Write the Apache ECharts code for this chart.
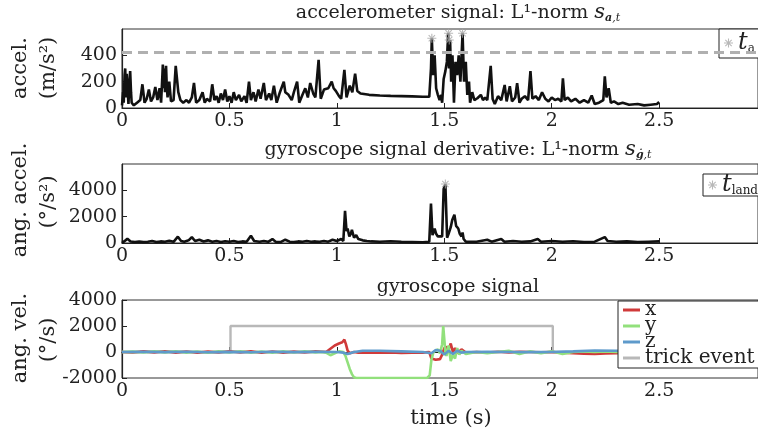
<!DOCTYPE html>
<html><head><meta charset="utf-8">
<script src="https://cdn.jsdelivr.net/npm/echarts@6/dist/echarts.min.js"></script>
<style>html,body{margin:0;padding:0;background:#fff}#c{width:758px;height:430px}</style>
</head><body><div id="c"></div>
<script>
// ---------- data ----------
const xTicks = [0, 0.5, 1, 1.5, 2, 2.5];
const accThreshold = 420;
const accData = [[0,20],[0.005,120],[0.008,40],[0.012,250],[0.015,300],[0.018,80],[0.022,260],[0.025,180],[0.03,30],[0.035,200],[0.038,280],[0.042,120],[0.045,40],[0.055,20],[0.07,40],[0.085,60],[0.095,180],[0.105,40],[0.115,70],[0.125,140],[0.135,50],[0.145,80],[0.155,160],[0.165,60],[0.175,150],[0.182,40],[0.188,250],[0.19,330],[0.194,150],[0.197,300],[0.2,120],[0.205,320],[0.208,180],[0.212,80],[0.22,200],[0.228,50],[0.24,60],[0.25,320],[0.262,120],[0.272,60],[0.285,40],[0.3,60],[0.312,40],[0.325,80],[0.335,190],[0.345,40],[0.36,60],[0.375,120],[0.385,40],[0.395,70],[0.41,50],[0.42,180],[0.43,60],[0.44,90],[0.45,40],[0.46,110],[0.47,60],[0.48,140],[0.49,50],[0.5,90],[0.51,40],[0.52,120],[0.53,60],[0.545,100],[0.555,50],[0.57,90],[0.58,40],[0.591,200],[0.6,60],[0.612,120],[0.622,50],[0.635,140],[0.645,70],[0.66,190],[0.67,60],[0.685,110],[0.695,60],[0.707,170],[0.72,40],[0.735,120],[0.753,200],[0.76,120],[0.775,100],[0.79,60],[0.8,120],[0.815,200],[0.825,40],[0.84,100],[0.853,150],[0.865,80],[0.876,190],[0.89,110],[0.9,80],[0.915,365],[0.925,70],[0.94,140],[0.96,150],[0.976,200],[0.985,150],[0.995,130],[1.01,90],[1.02,70],[1.035,290],[1.045,80],[1.06,170],[1.072,120],[1.085,260],[1.095,130],[1.11,110],[1.15,100],[1.2,95],[1.25,92],[1.3,90],[1.35,88],[1.4,85],[1.43,85],[1.438,300],[1.442,530],[1.448,250],[1.455,400],[1.462,150],[1.47,100],[1.478,60],[1.485,100],[1.49,40],[1.497,220],[1.505,280],[1.512,350],[1.518,568],[1.522,300],[1.527,517],[1.532,200],[1.538,400],[1.545,40],[1.552,350],[1.56,250],[1.567,400],[1.575,200],[1.585,568],[1.592,200],[1.6,350],[1.607,100],[1.615,200],[1.62,40],[1.63,120],[1.64,60],[1.654,74],[1.67,100],[1.68,60],[1.69,80],[1.7,60],[1.716,320],[1.725,68],[1.735,30],[1.75,90],[1.765,60],[1.781,175],[1.79,50],[1.805,165],[1.815,50],[1.83,80],[1.839,188],[1.85,40],[1.86,70],[1.875,90],[1.89,60],[1.901,280],[1.91,70],[1.925,90],[1.94,60],[1.955,120],[1.97,70],[1.985,50],[2.0,80],[2.015,60],[2.03,70],[2.045,50],[2.052,225],[2.06,60],[2.075,80],[2.09,50],[2.11,70],[2.13,40],[2.15,60],[2.17,40],[2.186,95],[2.2,30],[2.22,40],[2.24,60],[2.247,240],[2.255,80],[2.265,150],[2.275,40],[2.29,50],[2.31,30],[2.33,40],[2.36,25],[2.4,30],[2.43,20],[2.46,25],[2.49,30],[2.5,45]];
const accStars = [[1.442,530],[1.52,568],[1.523,517],[1.585,568]];

const gyroDerivData = [[0,0],[0.01,120],[0.025,330],[0.04,120],[0.06,80],[0.08,120],[0.1,80],[0.12,100],[0.14,150],[0.16,80],[0.18,120],[0.2,100],[0.22,160],[0.24,90],[0.26,480],[0.275,150],[0.29,100],[0.31,200],[0.325,450],[0.34,150],[0.36,250],[0.38,120],[0.4,200],[0.42,100],[0.44,150],[0.46,80],[0.48,130],[0.5,100],[0.52,150],[0.54,80],[0.56,120],[0.58,100],[0.6,550],[0.615,150],[0.64,100],[0.66,150],[0.68,90],[0.7,300],[0.715,100],[0.74,80],[0.76,250],[0.78,100],[0.8,80],[0.82,120],[0.84,100],[0.86,150],[0.88,100],[0.9,120],[0.92,90],[0.94,150],[0.96,100],[0.98,250],[1.0,150],[1.02,300],[1.03,150],[1.038,2450],[1.045,900],[1.05,1100],[1.058,500],[1.065,700],[1.07,1000],[1.08,400],[1.09,600],[1.1,300],[1.12,200],[1.14,150],[1.16,120],[1.2,100],[1.25,130],[1.3,90],[1.35,80],[1.4,60],[1.43,100],[1.438,3000],[1.445,600],[1.455,1100],[1.462,700],[1.47,500],[1.49,500],[1.497,4100],[1.505,4450],[1.51,4300],[1.513,400],[1.52,700],[1.53,1200],[1.537,1750],[1.547,2150],[1.555,1300],[1.565,1100],[1.572,700],[1.58,500],[1.585,800],[1.59,300],[1.6,100],[1.65,100],[1.7,250],[1.72,100],[1.765,300],[1.78,100],[1.82,150],[1.86,100],[1.9,120],[1.935,300],[1.95,100],[2.0,150],[2.05,100],[2.1,130],[2.15,80],[2.2,100],[2.247,450],[2.26,150],[2.3,100],[2.35,120],[2.4,80],[2.45,100],[2.5,120]];
const gyroDerivStars = [[1.505,4480]];

const trickData = [[0,0],[0.505,0],[0.505,2000],[2.005,2000],[2.005,0],[2.5,0]];
const gyroX = [[0,0],[0.05,-40],[0.1,50],[0.15,-30],[0.2,60],[0.25,-50],[0.3,40],[0.35,-60],[0.4,30],[0.45,-40],[0.5,60],[0.55,-30],[0.6,50],[0.65,-60],[0.7,40],[0.75,-50],[0.8,30],[0.85,-40],[0.9,50],[0.95,0],[0.97,250],[0.99,500],[1.01,650],[1.025,750],[1.035,950],[1.042,600],[1.05,100],[1.06,-100],[1.08,0],[1.1,-50],[1.15,-30],[1.2,-60],[1.25,-40],[1.3,-80],[1.35,-60],[1.4,-50],[1.43,0],[1.44,-500],[1.46,-600],[1.48,-550],[1.49,-200],[1.5,300],[1.51,400],[1.52,200],[1.53,650],[1.54,0],[1.55,300],[1.56,-100],[1.58,200],[1.6,-50],[1.65,0],[1.7,-40],[1.75,20],[1.8,-30],[1.85,10],[1.9,0],[1.95,-20],[2.0,0],[2.05,-60],[2.1,-100],[2.15,-140],[2.2,-150],[2.25,-120],[2.3,-100],[2.35,-60],[2.4,0],[2.45,30],[2.5,50]];
const gyroY = [[0,0],[0.05,30],[0.1,-40],[0.15,50],[0.2,-30],[0.25,60],[0.3,-50],[0.35,40],[0.4,-60],[0.45,50],[0.5,-40],[0.55,60],[0.6,-50],[0.65,40],[0.7,-60],[0.75,50],[0.8,-40],[0.85,60],[0.9,-30],[0.93,0],[0.95,-50],[0.97,-250],[0.99,-100],[1.01,50],[1.03,0],[1.04,-300],[1.05,-800],[1.06,-1300],[1.07,-1700],[1.08,-1950],[1.09,-2000],[1.2,-2000],[1.3,-2000],[1.42,-2000],[1.432,-1800],[1.44,-600],[1.45,0],[1.47,200],[1.48,-100],[1.49,600],[1.495,2000],[1.5,1900],[1.505,0],[1.51,-300],[1.52,500],[1.53,-700],[1.54,-200],[1.55,-500],[1.56,300],[1.57,-200],[1.58,100],[1.6,-150],[1.65,0],[1.7,-100],[1.75,0],[1.8,100],[1.85,-150],[1.9,50],[1.95,-100],[2.0,50],[2.05,-150],[2.1,0],[2.15,50],[2.2,0],[2.25,50],[2.3,0],[2.35,-50],[2.4,0],[2.45,0],[2.5,0]];
const gyroZ = [[0,0],[0.1,20],[0.2,-10],[0.3,15],[0.4,-20],[0.5,10],[0.6,-15],[0.7,20],[0.8,-10],[0.9,10],[1.0,0],[1.03,-50],[1.05,-150],[1.08,0],[1.12,100],[1.2,100],[1.3,50],[1.4,0],[1.44,-100],[1.46,150],[1.48,100],[1.5,-200],[1.52,100],[1.54,-150],[1.56,100],[1.58,-50],[1.6,0],[1.7,20],[1.8,0],[1.9,-10],[2.0,0],[2.1,50],[2.2,120],[2.3,100],[2.4,50],[2.5,0]];

// ---------- chart ----------
const FONT = 'DejaVu Serif';
const XMAX = 2.96;
const STAR = 'path://M0,4.4L10,4.4L10,5.6L0,5.6Z M4.4,0L5.6,0L5.6,10L4.4,10Z M1.88,1.04L8.96,8.12L8.12,8.96L1.04,1.88Z M8.96,1.88L1.88,8.96L1.04,8.12L8.12,1.04Z';
const gridsPos = [{top:29,height:79},{top:164,height:79},{top:300,height:80}];
const yCfg = [{min:0,max:600,interval:200,hideMax:true},{min:0,max:6000,interval:2000,hideMax:true},{min:-2000,max:4000,interval:2000,hideMax:false}];

const chart = echarts.init(document.getElementById('c'), null, {renderer:'canvas'});
const axisLineStyle = {color:'#222', width:1.2};
const subRich = {t:{fontStyle:'italic',fontSize:24,fontFamily:FONT,color:'#222'}, s:{fontSize:12,fontFamily:FONT,color:'#222',verticalAlign:'bottom',padding:[11,0,0,0]}};
const opt = {
  animation:false,
  backgroundColor:'#fff',
  grid: gridsPos.map(g => ({left:122, right:-5, top:g.top, height:g.height, show:true, borderColor:'#333', borderWidth:1, backgroundColor:'transparent'})),
  xAxis: gridsPos.map((g,i) => ({
    type:'value', gridIndex:i, min:xTicks[0], max:XMAX, interval:xTicks[1]-xTicks[0],
    axisLine:{lineStyle:axisLineStyle}, axisTick:{inside:true,length:5,lineStyle:{color:'#222'}},
    splitLine:{show:false},
    axisLabel:{showMaxLabel:false, fontFamily:FONT, fontSize:19, color:'#222', margin:4, formatter:v=>String(v)},
    name: i===2 ? 'time (s)' : '', nameLocation:'middle', nameGap:30,
    nameTextStyle:{fontFamily:FONT, fontSize:21, color:'#222', padding:[0,0,0,22]}
  })),
  yAxis: yCfg.map((c,i) => ({
    type:'value', gridIndex:i, min:c.min, max:c.max, interval:c.interval,
    axisLine:{show:true, lineStyle:axisLineStyle}, axisTick:{show:true, inside:true, length:5, lineStyle:{color:'#222'}},
    splitLine:{show:false},
    axisLabel:{showMaxLabel:!c.hideMax, fontFamily:FONT, fontSize:19, color:'#222', margin:5, formatter:v=>String(v)}
  })),
  legend: [
    {data:['t_a'], left:719, top:29, orient:'vertical', padding:[2,12,3,5], itemWidth:9, itemHeight:9, itemGap:0,
     borderColor:'#222', borderWidth:1, backgroundColor:'#fff',
     formatter:()=>'{t|t}{s|a}', textStyle:{fontFamily:FONT, color:'#222', rich:subRich}},
    {data:['t_land'], left:703, top:174, orient:'vertical', padding:[-1,12,-1,5], itemWidth:9, itemHeight:9, itemGap:0,
     borderColor:'#222', borderWidth:1, backgroundColor:'#fff',
     formatter:()=>'{t|t}{s|land}', textStyle:{fontFamily:FONT, color:'#222', rich:subRich}},
    {data:[{name:'x',icon:'rect'},{name:'y',icon:'rect'},{name:'z',icon:'rect'},{name:'trick event',icon:'rect'}],
     left:618, top:301, orient:'vertical', padding:[-1,30,0,5], itemWidth:17, itemHeight:3, itemGap:-4, itemStyle:{},
     borderColor:'#222', borderWidth:1, backgroundColor:'#fff',
     textStyle:{fontFamily:FONT, fontSize:20, color:'#222'}}
  ],
  series: [
    {name:'acc', type:'line', xAxisIndex:0, yAxisIndex:0, data:accData, showSymbol:false, lineStyle:{color:'#111', width:2.6}, itemStyle:{color:'#111'},
     markLine:{silent:true, symbol:'none', label:{show:false}, lineStyle:{color:'#b0b0b0', type:[10,6], width:3}, data:[{yAxis:accThreshold}]}},
    {name:'t_a', type:'scatter', xAxisIndex:0, yAxisIndex:0, data:accStars, symbol:STAR, symbolSize:9, itemStyle:{color:'#a8a8a8'}, z:5},
    {name:'gd', type:'line', xAxisIndex:1, yAxisIndex:1, data:gyroDerivData, showSymbol:false, lineStyle:{color:'#111', width:2.6}, itemStyle:{color:'#111'}},
    {name:'t_land', type:'scatter', xAxisIndex:1, yAxisIndex:1, data:gyroDerivStars, symbol:STAR, symbolSize:9, itemStyle:{color:'#a8a8a8'}, z:5},
    {name:'trick event', type:'line', xAxisIndex:2, yAxisIndex:2, data:trickData, showSymbol:false, lineStyle:{color:'#b8b8b8', width:2.4}, itemStyle:{color:'#b8b8b8'}},
    {name:'x', type:'line', xAxisIndex:2, yAxisIndex:2, data:gyroX, showSymbol:false, lineStyle:{color:'#d03a3a', width:2.6}, itemStyle:{color:'#d03a3a'}},
    {name:'y', type:'line', xAxisIndex:2, yAxisIndex:2, data:gyroY, showSymbol:false, lineStyle:{color:'#92e07c', width:2.6}, itemStyle:{color:'#92e07c'}},
    {name:'z', type:'line', xAxisIndex:2, yAxisIndex:2, data:gyroZ, showSymbol:false, lineStyle:{color:'#5e9acb', width:2.6}, itemStyle:{color:'#5e9acb'}}
  ]
};

const titleRich = {
  it:{fontStyle:'italic', fontSize:21, fontFamily:FONT, fill:'#222'},
  sub:{fontStyle:'italic', fontSize:11, fontFamily:FONT, padding:[9,0,0,0], verticalAlign:'bottom'},
  subb:{fontStyle:'italic', fontWeight:'bold', fontSize:11, fontFamily:FONT, padding:[9,0,0,0], verticalAlign:'bottom'}
};
function titleEl(text, y){
  return {type:'text', x:458, y:y, silent:true, z:10,
    style:{text:text, fill:'#222', font:'19px "'+FONT+'"', textAlign:'center', textVerticalAlign:'middle', rich:titleRich}};
}
function yName(text, x, y){
  return {type:'text', x:x, y:y, rotation:Math.PI/2, silent:true,
    style:{text:text, fill:'#222', font:'21px "'+FONT+'"', textAlign:'center', textVerticalAlign:'middle'}};
}
opt.graphic = [
  titleEl('accelerometer signal: L¹-norm {it|s}{subb|a}{sub|,t}', 13),
  titleEl('gyroscope signal derivative: L¹-norm {it|s}{subb|ġ}{sub|,t}', 150),
  titleEl('gyroscope signal', 287),
  yName('accel.', 21, 68), yName('(m/s²)', 49, 68),
  yName('ang. accel.', 21, 200), yName('(°/s²)', 49, 202),
  yName('ang. vel.', 21, 338), yName('(°/s)', 49, 340)
];
chart.setOption(opt);
</script></body></html>
